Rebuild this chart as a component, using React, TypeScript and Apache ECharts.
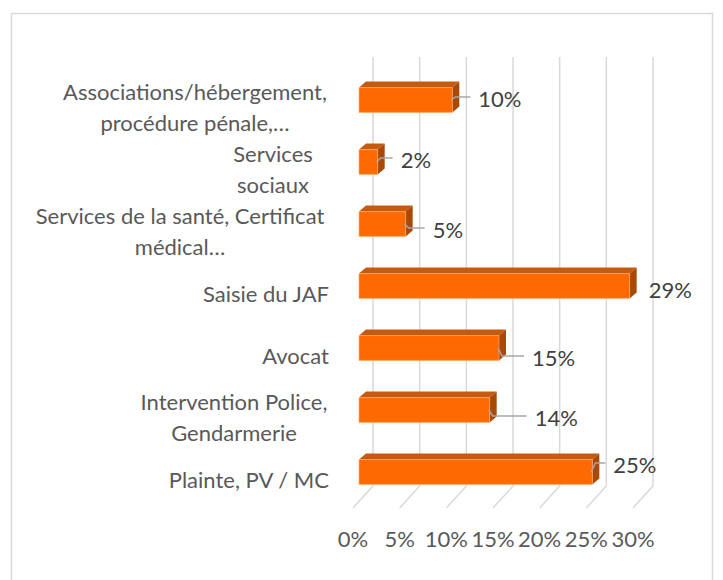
import React, { useEffect, useRef } from "react";
import * as echarts from "echarts";

// Categories listed bottom to top (as Excel stores them)
const categories = [
  "Plainte, PV / MC",
  "Intervention Police,\nGendarmerie",
  "Avocat",
  "Saisie du JAF",
  "Services de la santé, Certificat\nmédical…",
  "Services\nsociaux",
  "Associations/hébergement,\nprocédure pénale,…",
];
const values = [25, 14, 15, 29, 5, 2, 10];
const tickValues = [0, 5, 10, 15, 20, 25, 30];

// layout helpers (not data)
const labelStyleKeys = [["p"], ["d", "d"], ["p"], ["p"], ["c1", "c2"], ["b", "b"], ["a", "a"]];
const labelNudges = [
  [21, -8, 1],
  [45, 7, 1],
  [33, 9, 1],
  [19, 3, 0],
  [27, 5, 1],
  [23, -3, 1],
  [26, -2, 1],
];

const FONT = "Lato";
const FS = 22;

export default function App() {
  const ref = useRef<HTMLDivElement>(null);
  useEffect(() => {
    document.body.style.margin = "0";
    const chart = echarts.init(ref.current!, null, { renderer: "svg" });
    const txt = (w?: number) => ({
      fontFamily: FONT,
      fontSize: FS,
      color: "#595959",
      lineHeight: 31,
      ...(w ? { width: w, align: "center" } : {}),
    });
    const option: any = {
      animation: false,
      grid: { left: 353, right: 90, top: 76, bottom: 70 },
      xAxis: {
        type: "value",
        min: 0,
        max: 30,
        interval: 5,
        axisLine: { show: false },
        axisTick: { show: false },
        splitLine: { show: false },
        axisLabel: {
          formatter: "{value}%",
          color: "#595959",
          fontFamily: FONT,
          fontSize: FS,
          margin: 17,
        },
      },
      yAxis: {
        type: "category",
        data: categories,
        axisLine: { show: false },
        axisTick: { show: false },
        splitLine: { show: false },
        axisLabel: {
          margin: 24,
          color: "#595959",
          fontFamily: FONT,
          fontSize: FS,
          lineHeight: 31,
          formatter: (val: string, idx: number) =>
            val
              .split("\n")
              .map((l, i) => `{${labelStyleKeys[idx][i]}|${l}}`)
              .join("\n"),
          rich: {
            p: txt(),
            a: txt(268),
            b: txt(112),
            c1: txt(298),
            c2: txt(238),
            d: txt(190),
          },
        },
      },
      graphic: [
        {
          type: "rect",
          silent: true,
          shape: { x: 11.5, y: 13.5, width: 701, height: 620 },
          style: { fill: "none", stroke: "#D9D9D9", lineWidth: 1.5 },
        },
      ],
      series: [
        {
          type: "custom",
          z: 1,
          data: tickValues.map((t) => [t, 0]),
          encode: { x: 0, y: 1 },
          renderItem: (params: any, api: any) => {
            const x = api.coord([api.value(0), 0])[0];
            const cs = params.coordSys;
            return {
              type: "polyline",
              shape: {
                points: [
                  [x + 20, cs.y - 19],
                  [x + 20, cs.y + cs.height - 24],
                  [x, cs.y + cs.height - 2],
                ],
              },
              style: { stroke: "#D9D9D9", lineWidth: 1.5, fill: null },
            };
          },
        },
        {
          type: "custom",
          z: 2,
          data: values.map((v, i) => [v, i]),
          encode: { x: 0, y: 1 },
          renderItem: (params: any, api: any) => {
            const v = api.value(0);
            const ci = api.value(1);
            const c0 = api.coord([0, ci]);
            const c1 = api.coord([v, ci]);
            const band = api.size([0, 1])[1];
            const h = band * 0.4;
            const x0 = c0[0] + 6;
            const x1 = c1[0] + 6;
            const yc = c0[1] - 7;
            const yt = yc - h / 2;
            const yb = yc + h / 2;
            const dx = 7;
            const dy = -6;
            const n = labelNudges[params.dataIndex];
            const lx = x1 + n[0];
            const ly = yc + n[1];
            const children: any[] = [
              {
                type: "polygon",
                shape: { points: [[x0, yt], [x1, yt], [x1 + dx, yt + dy], [x0 + dx, yt + dy]] },
                style: { fill: "#C55A11" },
              },
              {
                type: "polygon",
                shape: { points: [[x1, yt], [x1 + dx, yt + dy], [x1 + dx, yb + dy], [x1, yb]] },
                style: { fill: "#A84A05" },
              },
              {
                type: "rect",
                shape: { x: x0, y: yt, width: x1 - x0, height: h },
                style: { fill: "#FF6A00", stroke: "rgba(255,170,110,0.7)", lineWidth: 1 },
              },
            ];
            if (n[2]) {
              children.push({
                type: "polyline",
                shape: { points: [[x1 - 1, yc], [x1 + 3, ly - 1], [lx - 8, ly - 1]] },
                style: { stroke: "#A6A6A6", lineWidth: 1.5, fill: null },
              });
            }
            children.push({
              type: "text",
              x: lx,
              y: ly,
              style: {
                text: v + "%",
                fill: "#404040",
                fontFamily: FONT,
                fontSize: FS,
                align: "left",
                verticalAlign: "middle",
              },
            });
            return { type: "group", children };
          },
        },
      ],
    };
    chart.setOption(option);
    return () => chart.dispose();
  }, []);
  return <div ref={ref} style={{ width: 723, height: 580 }} />;
}
